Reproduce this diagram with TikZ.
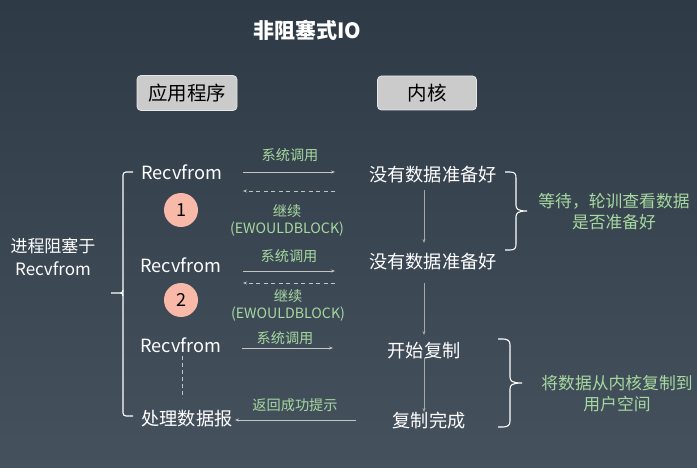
\documentclass[tikz,border=0pt]{standalone}
\usepackage{fontspec}
\setmainfont{Noto Sans CJK SC}
\usetikzlibrary{arrows.meta}
\definecolor{bgtop}{HTML}{2F3A47}
\definecolor{bgbot}{HTML}{46515E}
\definecolor{boxfill}{HTML}{CBCBCB}
\definecolor{boxline}{HTML}{E6E6E6}
\definecolor{lblgreen}{HTML}{A6D99F}
\definecolor{arrgray}{HTML}{C4C4C4}
\definecolor{vgray}{HTML}{A8A8A8}
\definecolor{circfill}{HTML}{F9B9A9}
\begin{document}
\begin{tikzpicture}[x=1pt,y=-1pt,
  titletext/.style={text=white,font=\fontsize{21}{23}\selectfont\bfseries,inner sep=0pt},
  hdrbox/.style={draw=boxline,line width=0.8pt,fill=boxfill,rounded corners=4pt,minimum width=100pt,minimum height=35pt,font=\fontsize{19.5}{21}\selectfont,text=black,inner sep=0pt},
  wt/.style={text=white,font=\fontsize{18.2}{20}\selectfont,inner sep=0pt},
  wtl/.style={text=white,font=\fontsize{17}{23}\selectfont,inner sep=0pt,align=center},
  gl/.style={text=lblgreen,font=\fontsize{14.2}{17}\selectfont,inner sep=0pt,align=center},
  gr/.style={text=lblgreen,font=\fontsize{16.8}{21}\selectfont,inner sep=0pt,align=center},
  numcirc/.style={circle,fill=circfill,minimum size=34pt,inner sep=0pt,text=black,font=\fontsize{18}{20}\selectfont},
  callarr/.style={draw=arrgray,line width=0.8pt,-{Stealth[length=4pt,width=3pt]}},
  retarr/.style={draw=arrgray,line width=0.8pt,dash pattern=on 4pt off 3.5pt,-{Stealth[length=4pt,width=3pt]}},
  varr/.style={draw=vgray,line width=1pt,-{Stealth[length=4pt,width=3pt]}},
  bracestyle/.style={draw=white,line width=1.1pt},
]
\shade[top color=bgtop,bottom color=bgbot] (0,0) rectangle (697,468);
\useasboundingbox (0,0) rectangle (697,468);

% title and headers
\node[titletext] (title) at (307,30) {非阻塞式IO};
\node[hdrbox] (app) at (187,93) {应用程序};
\node[hdrbox,minimum width=99pt,minimum height=34pt] (kern) at (427,93) {内核};

% application side
\node[wt] (r1) at (182,172) {Recvfrom};
\node[wt] (r2) at (181,265) {Recvfrom};
\node[wt] (r3) at (181,345) {Recvfrom};
\node[wt] (done) at (187,419) {处理数据报};
\node[numcirc] (c1) at (181,210) {1};
\node[numcirc] (c2) at (181,300) {2};

% kernel side
\node[wt] (k1) at (433,175) {没有数据准备好};
\node[wt] (k2) at (433,262) {没有数据准备好};
\node[wt] (k3) at (424,351) {开始复制};
\node[wt] (k4) at (429,421) {复制完成};

% labels
\node[gl] (l1) at (290,155) {系统调用};
\node[gl] (l2) at (287,220) {继续\\(EWOULDBLOCK)};
\node[gl] (l3) at (289,256) {系统调用};
\node[gl] (l4) at (288,305) {继续\\(EWOULDBLOCK)};
\node[gl] (l5) at (285,338) {系统调用};
\node[gl] (l6) at (295,405) {返回成功提示};
\node[gr] (w1) at (614,212) {等待，轮训查看数据\\是否准备好};
\node[gr] (w2) at (617,394) {将数据从内核复制到\\用户空间};
\node[wtl] (left) at (53,257) {进程阻塞于\\Recvfrom};

% connector end points
\coordinate (a1s) at (243,172); \coordinate (a1e) at (335,172);
\coordinate (d1s) at (335,191); \coordinate (d1e) at (243,191);
\coordinate (a2s) at (243,271); \coordinate (a2e) at (335,271);
\coordinate (d2s) at (335,283); \coordinate (d2e) at (243,283);
\coordinate (a3s) at (242,348); \coordinate (a3e) at (333,348);
\coordinate (bs) at (356,420); \coordinate (be) at (235,420);
\coordinate (v1s) at (424,190); \coordinate (v1e) at (424,243);
\coordinate (v2s) at (424,283); \coordinate (v2e) at (424,335);
\coordinate (v3s) at (424,358); \coordinate (v3e) at (424,412);
\coordinate (dvs) at (182,356); \coordinate (dve) at (182,398);

\draw[callarr] (a1s) -- (a1e);
\draw[retarr] (d1s) -- (d1e);
\draw[callarr] (a2s) -- (a2e);
\draw[retarr] (d2s) -- (d2e);
\draw[callarr] (a3s) -- (a3e);
\draw[callarr] (bs) -- (be);
\draw[varr] (v1s) -- (v1e);
\draw[varr] (v2s) -- (v2e);
\draw[varr] (v3s) -- (v3e);
\draw[draw=arrgray,line width=1pt,dash pattern=on 4pt off 3pt] (dvs) -- (dve);

% braces
\coordinate (b1t) at (505,172); \coordinate (b1b) at (505,250); \coordinate (b1tip) at (527,211);
\coordinate (b2t) at (498,339); \coordinate (b2b) at (498,427); \coordinate (b2tip) at (522,383);
\draw[bracestyle] (b1t) -- (510,172) .. controls (515,172) and (516,174) .. (516,178)
  -- (516,205) .. controls (516,209) and (518,211) .. (b1tip)
  (b1tip) .. controls (518,211) and (516,213) .. (516,217)
  -- (516,244) .. controls (516,248) and (515,250) .. (510,250) -- (b1b);
\draw[bracestyle] (b2t) -- (503,339) .. controls (508,339) and (510,341) .. (510,345)
  -- (510,377) .. controls (510,381) and (512,383) .. (b2tip)
  (b2tip) .. controls (512,383) and (510,385) .. (510,389)
  -- (510,421) .. controls (510,425) and (508,427) .. (503,427) -- (b2b);

% left bracket
\coordinate (lbt) at (133,172); \coordinate (lbb) at (133,416);
\coordinate (lbtip) at (111,293);
\draw[bracestyle,rounded corners=3pt] (lbt) -- (123,172) -- (123,416) -- (lbb);
\draw[bracestyle] (lbtip) -- (120,293) .. controls (122,293) and (123,292) .. (123,290)
  (120,293) .. controls (122,293) and (123,294) .. (123,296);
\end{tikzpicture}
\end{document}
